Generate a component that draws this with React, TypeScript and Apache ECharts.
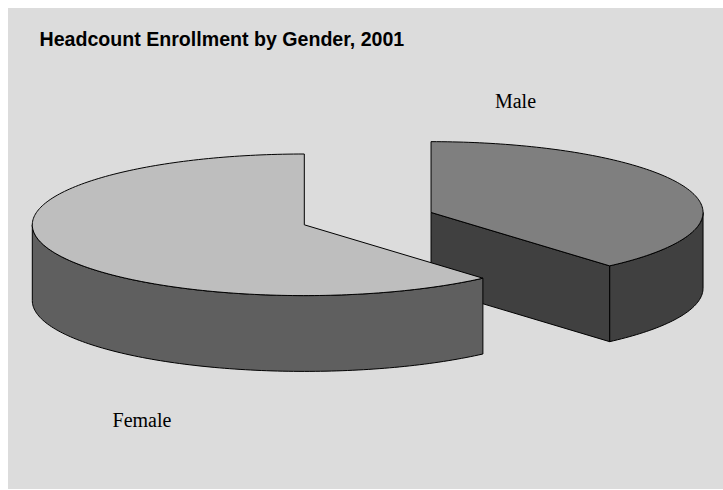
import React, { useEffect, useRef } from "react";
import * as echarts from "echarts";

const categories = ["Male", "Female"];
const shares = [38.6, 61.4];
const fillTop = ["#7f7f7f", "#bebebe"];
const fillSide = ["#404040", "#5f5f5f"];
const chartTitle = "Headcount Enrollment by Gender, 2001";

const CX = 304.3, CY = 224.8, RX = 272, RY = 70.8, DEPTH = 75.8, EXPLODE = 0.4975;
const labelPos: Record<string, [number, number]> = { Male: [515.5, 101], Female: [142, 420] };

function pt(cx: number, cy: number, a: number): [number, number] {
  return [cx + RX * Math.sin(a), cy - RY * Math.cos(a)];
}
function arcTo(cx: number, cy: number, a1: number, a2: number, dy = 0) {
  // sampled clockwise elliptical arc
  let d = "";
  const n = Math.ceil(Math.abs(a2 - a1) / 0.02);
  for (let i = 1; i <= n; i++) {
    const p = pt(cx, cy + dy, a1 + ((a2 - a1) * i) / n);
    d += `L${p[0]} ${p[1]}`;
  }
  return d;
}
function revArc(cx: number, cy: number, a1: number, a2: number, dy: number) {
  return arcTo(cx, cy, a2, a1, dy);
}

function renderSlices(params: any, api: any) {
  const idx = params.dataIndex;
  const total = shares.reduce((s, v) => s + v, 0);
  const before = shares.slice(0, idx).reduce((s, v) => s + v, 0);
  const a1 = (before / total) * Math.PI * 2;
  const a2 = ((before + api.value(0)) / total) * Math.PI * 2;
  const mid = (a1 + a2) / 2;
  const ex = idx === 0 ? EXPLODE : 0;
  const cx = CX + ex * RX * Math.sin(mid);
  const cy = CY - ex * RY * Math.cos(mid);
  const stroke = { stroke: "#000", lineWidth: 1, lineJoin: "round" };
  const children: any[] = [];
  const side = (d: string) =>
    children.push({ type: "path", shape: { pathData: d }, style: { fill: fillSide[idx], ...stroke } });

  // visible part of the outer wall: between 90deg and 270deg
  const w1 = Math.max(a1, Math.PI / 2);
  const w2 = Math.min(a2, (Math.PI * 3) / 2);
  if (w2 > w1) {
    const s = pt(cx, cy, w1);
    const e = pt(cx, cy + DEPTH, w2);
    side(`M${s[0]} ${s[1]}${arcTo(cx, cy, w1, w2)}L${e[0]} ${e[1]}${revArc(cx, cy, w1, w2, DEPTH)}Z`);
  }
  // visible cut face
  if (a2 < Math.PI) {
    const e = pt(cx, cy, a2);
    side(`M${cx} ${cy}L${e[0]} ${e[1]}L${e[0]} ${e[1] + DEPTH}L${cx} ${cy + DEPTH}Z`);
  }
  const s = pt(cx, cy, a1);
  children.push({
    type: "path",
    shape: { pathData: `M${cx} ${cy}L${s[0]} ${s[1]}${arcTo(cx, cy, a1, a2)}Z` },
    style: { fill: fillTop[idx], ...stroke },
  });
  const lp = labelPos[categories[idx]];
  children.push({
    type: "text",
    x: lp[0],
    y: lp[1],
    style: {
      text: categories[idx],
      fill: "#000",
      font: '20px "Liberation Serif"',
      textAlign: "center",
      textVerticalAlign: "middle",
    },
  });
  return { type: "group", children };
}

export default function App() {
  const ref = useRef<HTMLDivElement>(null);
  useEffect(() => {
    const chart = echarts.init(ref.current!, undefined, { renderer: "svg" });
    chart.setOption({
      animation: false,
      backgroundColor: "#ffffff",
      graphic: [
        { type: "rect", z: -10, shape: { x: 8, y: 8, width: 715, height: 481 }, style: { fill: "#dcdcdc" } },
      ],
      title: {
        text: chartTitle,
        left: 34.5,
        top: 24,
        textStyle: { fontFamily: "Liberation Sans", fontWeight: "bold", fontSize: 19.6, color: "#000" },
      },
      series: [
        {
          type: "custom",
          coordinateSystem: "none",
          renderItem: renderSlices,
          data: shares.map((v, i) => ({ name: categories[i], value: [v] })),
        },
      ],
    });
    return () => chart.dispose();
  }, []);
  return <div ref={ref} style={{ position: "absolute", left: 0, top: 0, width: 723, height: 490 }} />;
}
